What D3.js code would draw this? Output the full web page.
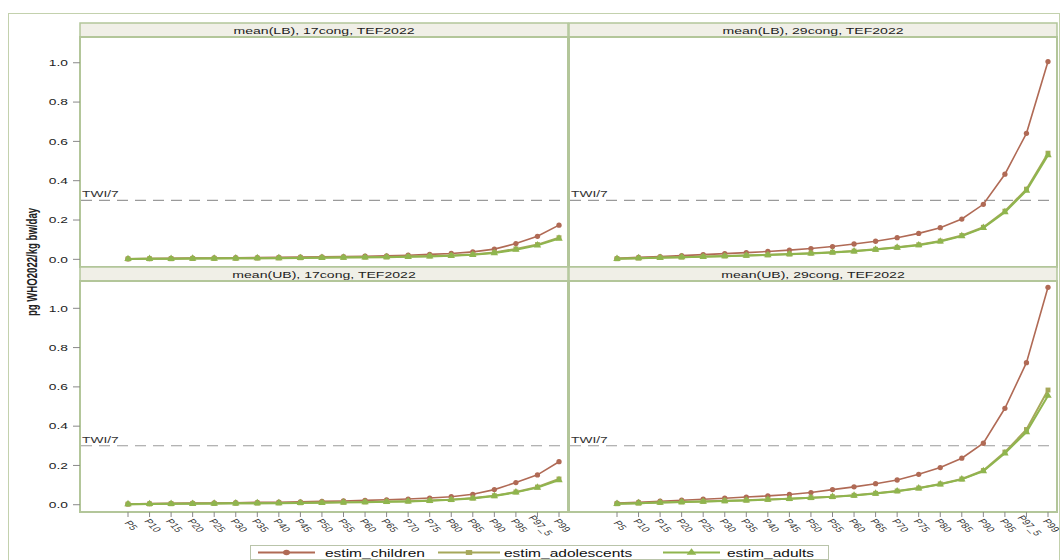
<!DOCTYPE html>
<html>
<head>
<meta charset="utf-8">
<script src="https://cdn.jsdelivr.net/npm/d3@7"></script>
<style>
  body { margin: 0; background: #ffffff; }
  svg { display: block; font-family: "Liberation Sans", Arial, sans-serif; }
</style>
</head>
<body>
<svg id="chart" width="1061" height="560"></svg>
<script>
// Percentile categories on the x axis
const categories = ["P5","P10","P15","P20","P25","P30","P35","P40","P45","P50","P55",
                    "P60","P65","P70","P75","P80","P85","P90","P95","P97_5","P99"];

const panelTitles = ["mean(LB), 17cong, TEF2022", "mean(LB), 29cong, TEF2022",
                     "mean(UB), 17cong, TEF2022", "mean(UB), 29cong, TEF2022"];

const seriesNames = ["estim_children", "estim_adolescents", "estim_adults"];

// Exposure estimates, pg WHO2022/kg bw/day
const childrenLB17    = [0.003,0.004,0.005,0.006,0.007,0.008,0.009,0.010,0.011,0.013,0.014,0.016,0.018,0.021,0.025,0.030,0.038,0.052,0.080,0.117,0.174];
const adolescentsLB17 = [0.002,0.003,0.003,0.004,0.005,0.005,0.006,0.007,0.008,0.009,0.010,0.011,0.012,0.014,0.017,0.020,0.025,0.035,0.053,0.075,0.110];
const adultsLB17      = [0.002,0.003,0.003,0.004,0.004,0.005,0.006,0.006,0.007,0.008,0.009,0.010,0.011,0.013,0.015,0.018,0.023,0.032,0.049,0.071,0.106];

const childrenLB29    = [0.005,0.010,0.014,0.019,0.024,0.029,0.034,0.040,0.047,0.055,0.065,0.078,0.092,0.110,0.132,0.161,0.205,0.280,0.433,0.641,1.006];
const adolescentsLB29 = [0.003,0.006,0.009,0.011,0.014,0.017,0.020,0.023,0.027,0.031,0.036,0.042,0.051,0.061,0.074,0.093,0.121,0.163,0.245,0.357,0.540];
const adultsLB29      = [0.003,0.006,0.008,0.011,0.013,0.016,0.019,0.022,0.026,0.030,0.035,0.041,0.050,0.060,0.072,0.091,0.118,0.160,0.240,0.350,0.530];

const childrenUB17    = [0.004,0.006,0.007,0.008,0.009,0.010,0.012,0.013,0.015,0.017,0.019,0.022,0.025,0.029,0.034,0.041,0.053,0.077,0.113,0.152,0.219];
const adolescentsUB17 = [0.003,0.004,0.005,0.006,0.006,0.007,0.008,0.009,0.010,0.011,0.012,0.014,0.016,0.018,0.021,0.026,0.034,0.046,0.065,0.090,0.131];
const adultsUB17      = [0.003,0.004,0.005,0.005,0.006,0.007,0.008,0.008,0.009,0.010,0.012,0.013,0.015,0.017,0.020,0.025,0.032,0.044,0.063,0.087,0.126];

const childrenUB29    = [0.008,0.013,0.018,0.023,0.028,0.033,0.039,0.045,0.052,0.062,0.077,0.091,0.107,0.126,0.155,0.189,0.237,0.313,0.491,0.723,1.107];
const adolescentsUB29 = [0.005,0.008,0.011,0.014,0.017,0.020,0.023,0.027,0.031,0.036,0.041,0.048,0.058,0.070,0.085,0.106,0.131,0.174,0.268,0.383,0.584];
const adultsUB29      = [0.005,0.008,0.011,0.014,0.016,0.019,0.022,0.026,0.030,0.035,0.040,0.047,0.057,0.069,0.084,0.104,0.129,0.171,0.262,0.370,0.555];

const yTicks = [0, 0.2, 0.4, 0.6, 0.8, 1.0];
const twiValue = 0.3;
const twiLabel = "TWI/7";
const yTitle = "pg WHO2022/kg bw/day";

// Styling
const colors = ["#b06a55", "#a6a85a", "#8fb54e"];
const frameColor = "#b3c69a";
const headerFill = "#f0efe7";
const SX = 1.45; // horizontal text stretch

const svg = d3.select("#chart");

// Panel grid geometry
const cols = [{x0: 80, x1: 568}, {x0: 569, x1: 1057}];
const rows = [
  {hy: 23, y0: 37, y1: 267, dom: [-0.039, 1.131]},
  {hy: 267, y0: 281, y1: 512, dom: [-0.037, 1.139]}
];

const panelSeries = [
  [childrenLB17, adolescentsLB17, adultsLB17],
  [childrenLB29, adolescentsLB29, adultsLB29],
  [childrenUB17, adolescentsUB17, adultsUB17],
  [childrenUB29, adolescentsUB29, adultsUB29]
];

// Outer frame
svg.append("rect")
  .attr("x", 8.5).attr("y", 13.5).attr("width", 1051).attr("height", 560)
  .attr("fill", "none").attr("stroke", "#c3d1ad").attr("stroke-width", 1);

function stretchedText(sel, x, y, str) {
  return sel.append("text")
    .attr("transform", `translate(${x},${y}) scale(${SX},1)`)
    .text(str);
}

function markerPath(kind) {
  if (kind === 0) return d3.symbol(d3.symbolCircle, 22)();
  if (kind === 1) return d3.symbol(d3.symbolSquare, 24)();
  return d3.symbol(d3.symbolTriangle, 24)();
}

panelTitles.forEach((title, i) => {
  const c = cols[i % 2], r = rows[Math.floor(i / 2)];
  const g = svg.append("g");

  const x = d3.scalePoint().domain(categories).range([c.x0 + 48, c.x1 - 9]);
  const y = d3.scaleLinear().domain(r.dom).range([r.y1, r.y0]);

  // header strip
  g.append("rect")
    .attr("x", c.x0).attr("y", r.hy).attr("width", c.x1 - c.x0).attr("height", r.y0 - r.hy)
    .attr("fill", headerFill).attr("stroke", frameColor).attr("stroke-width", 1.5);
  stretchedText(g, (c.x0 + c.x1) / 2, r.hy + 10.5, title)
    .attr("text-anchor", "middle").attr("font-size", 9.7).attr("fill", "#222");

  // plot area
  g.append("rect")
    .attr("x", c.x0).attr("y", r.y0).attr("width", c.x1 - c.x0).attr("height", r.y1 - r.y0)
    .attr("fill", "#fff").attr("stroke", frameColor).attr("stroke-width", 2);

  // reference line
  g.append("line")
    .attr("x1", c.x0 + 1).attr("x2", c.x1 - 1)
    .attr("y1", y(twiValue)).attr("y2", y(twiValue))
    .attr("stroke", "#9a9a9a").attr("stroke-width", 1.1).attr("stroke-dasharray", "11,7");
  stretchedText(g, c.x0 + 2, y(twiValue) - 3, twiLabel)
    .attr("font-size", 9.5).attr("fill", "#333");

  // y axis on the left column
  if (i % 2 === 0) {
    const ya = g.append("g");
    yTicks.forEach(t => {
      ya.append("line").attr("x1", c.x0 - 7).attr("x2", c.x0)
        .attr("y1", y(t)).attr("y2", y(t)).attr("stroke", "#888").attr("stroke-width", 1);
      stretchedText(ya, c.x0 - 12, y(t) + 3.3, d3.format(".1f")(t))
        .attr("text-anchor", "end").attr("font-size", 9.5).attr("fill", "#222");
    });
  }

  // x axis on the bottom row
  if (Math.floor(i / 2) === 1) {
    const xa = g.append("g");
    categories.forEach(cat => {
      xa.append("line").attr("x1", x(cat)).attr("x2", x(cat))
        .attr("y1", r.y1).attr("y2", r.y1 + 5).attr("stroke", "#888").attr("stroke-width", 1);
      xa.append("text")
        .attr("transform", `translate(${x(cat)},${r.y1 + 15}) scale(${SX},1) rotate(55)`)
        .attr("text-anchor", "middle").attr("font-size", 7.8).attr("fill", "#333")
        .text(cat);
    });
  }

  // series lines and markers
  const line = d3.line().x((d, j) => x(categories[j])).y(d => y(d));
  panelSeries[i].forEach((vals, s) => {
    g.append("path").datum(vals)
      .attr("d", line).attr("fill", "none")
      .attr("stroke", colors[s]).attr("stroke-width", s === 0 ? 1.6 : 2);
    g.selectAll(null).data(vals).enter().append("path")
      .attr("d", markerPath(s))
      .attr("transform", (d, j) => `translate(${x(categories[j])},${y(d)})`)
      .attr("fill", colors[s]);
  });
});

// y axis title
svg.append("text")
  .attr("transform", `translate(37,262) scale(${SX},1) rotate(-90)`)
  .attr("text-anchor", "middle").attr("font-size", 9.6).attr("font-weight", "bold")
  .attr("fill", "#222").text(yTitle);

// legend
const lg = svg.append("g");
lg.append("rect").attr("x", 250.5).attr("y", 545.5).attr("width", 578).attr("height", 14)
  .attr("fill", "#fff").attr("stroke", "#b9c4aa").attr("stroke-width", 1);
const legendItems = [
  {x0: 258, x1: 315, tx: 325},
  {x0: 438, x1: 500, tx: 504},
  {x0: 663, x1: 720, tx: 727}
];
seriesNames.forEach((name, s) => {
  const it = legendItems[s];
  lg.append("line").attr("x1", it.x0).attr("x2", it.x1).attr("y1", 552.5).attr("y2", 552.5)
    .attr("stroke", colors[s]).attr("stroke-width", 2);
  lg.append("path").attr("d", markerPath(s))
    .attr("transform", `translate(${(it.x0 + it.x1) / 2},552.5) scale(1.3,1)`)
    .attr("fill", colors[s]);
  stretchedText(lg, it.tx, 556.5, name).attr("font-size", 10.7).attr("fill", "#111");
});
</script>
</body>
</html>
